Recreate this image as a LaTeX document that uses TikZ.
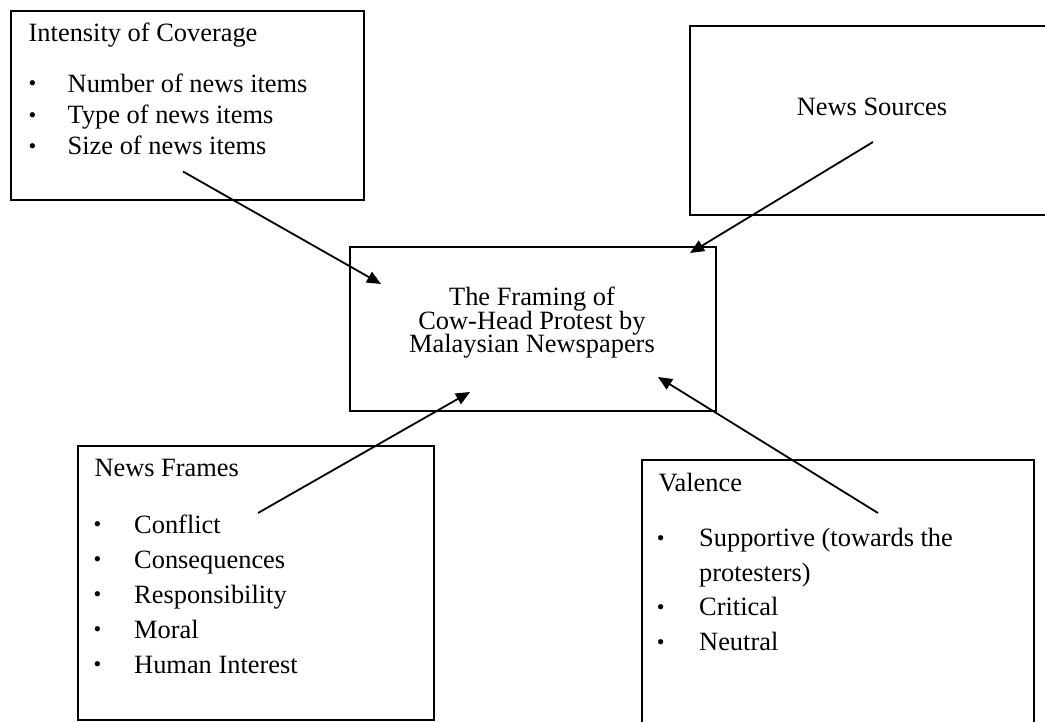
\documentclass[tikz,border=0pt]{standalone}
\usepackage{fontspec}
\setmainfont{Liberation Serif}
\usetikzlibrary{arrows.meta}
\begin{document}
\begin{tikzpicture}[x=1pt,y=-1pt,
  box/.style={draw=black, line width=1.8pt, rectangle, inner sep=0pt, anchor=north west},
  txt/.style={anchor=base west, inner sep=0pt, font=\fontsize{26.4}{30}\selectfont},
  ctxt/.style={anchor=base, inner sep=0pt, font=\fontsize{26.4}{30}\selectfont},
  mtxt/.style={anchor=north, inner sep=0pt, align=center, font=\fontsize{26.4}{23.3}\selectfont},
  bul/.style={anchor=center, inner sep=0pt, font=\fontsize{22}{22}\selectfont},
  conn/.style={draw=black, line width=1.8pt, -{Triangle[length=14pt,width=12pt]}}]
\useasboundingbox (0,0) rectangle (1045,722);
\clip (0,0) rectangle (1045,722);
\fill[white] (0,0) rectangle (1045,722);

% boxes
\node[box, minimum width=353pt, minimum height=189pt] (ic) at (10,10) {};
\node[box, minimum width=380pt, minimum height=189pt] (ns) at (689,25) {};
\node[box, minimum width=366pt, minimum height=164pt] (fr) at (349,246) {};
\node[box, minimum width=356pt, minimum height=274pt] (nf) at (77,445) {};
\node[box, minimum width=392pt, minimum height=290pt] (va) at (641,459) {};

% Intensity of Coverage
\node[txt] (ict) at (28.5,41.7) {Intensity of Coverage};
\node[bul] (icb1) at (32.5,86) {•};
\node[txt] (ic1) at (67.5,92.7) {Number of news items};
\node[bul] (icb2) at (32.5,117.5) {•};
\node[txt] (ic2) at (67.5,124) {Type of news items};
\node[bul] (icb3) at (32.5,148.5) {•};
\node[txt] (ic3) at (67.5,155) {Size of news items};

% News Sources
\node[ctxt] (nst) at (872,116) {News Sources};

% Center
\node[mtxt] (frt) at (532,287) {The Framing of\\[-1.8pt]Cow-Head Protest by\\[-1.8pt]Malaysian Newspapers};

% News Frames
\node[txt] (nft) at (94.3,476.7) {News Frames};
\node[bul] (nfb1) at (97.5,526.5) {•};
\node[txt] (nf1) at (134,533) {Conflict};
\node[bul] (nfb2) at (97.5,561.5) {•};
\node[txt] (nf2) at (134,568) {Consequences};
\node[bul] (nfb3) at (97.5,596.5) {•};
\node[txt] (nf3) at (134,603) {Responsibility};
\node[bul] (nfb4) at (97.5,631.5) {•};
\node[txt] (nf4) at (134,638) {Moral};
\node[bul] (nfb5) at (97.5,666.5) {•};
\node[txt] (nf5) at (134,673) {Human Interest};

% Valence
\node[txt] (vat) at (658.3,491.7) {Valence};
\node[bul] (vab1) at (660.7,540.2) {•};
\node[txt] (va1) at (699,546.7) {Supportive (towards the};
\node[txt] (va1b) at (699,581.7) {protesters)};
\node[bul] (vab2) at (660.7,609.2) {•};
\node[txt] (va2) at (699,615.7) {Critical};
\node[bul] (vab3) at (660.7,644.2) {•};
\node[txt] (va3) at (699,650.7) {Neutral};

% connector end points
\coordinate (a1s) at (183,171.5);
\coordinate (a1e) at (381,284);
\coordinate (a2s) at (873,142);
\coordinate (a2e) at (690,253);
\coordinate (a3s) at (258,513);
\coordinate (a3e) at (470,392);
\coordinate (a4s) at (878,513);
\coordinate (a4e) at (658,377);

\draw[conn] (a1s) -- (a1e);
\draw[conn] (a2s) -- (a2e);
\draw[conn] (a3s) -- (a3e);
\draw[conn] (a4s) -- (a4e);
\end{tikzpicture}
\end{document}
